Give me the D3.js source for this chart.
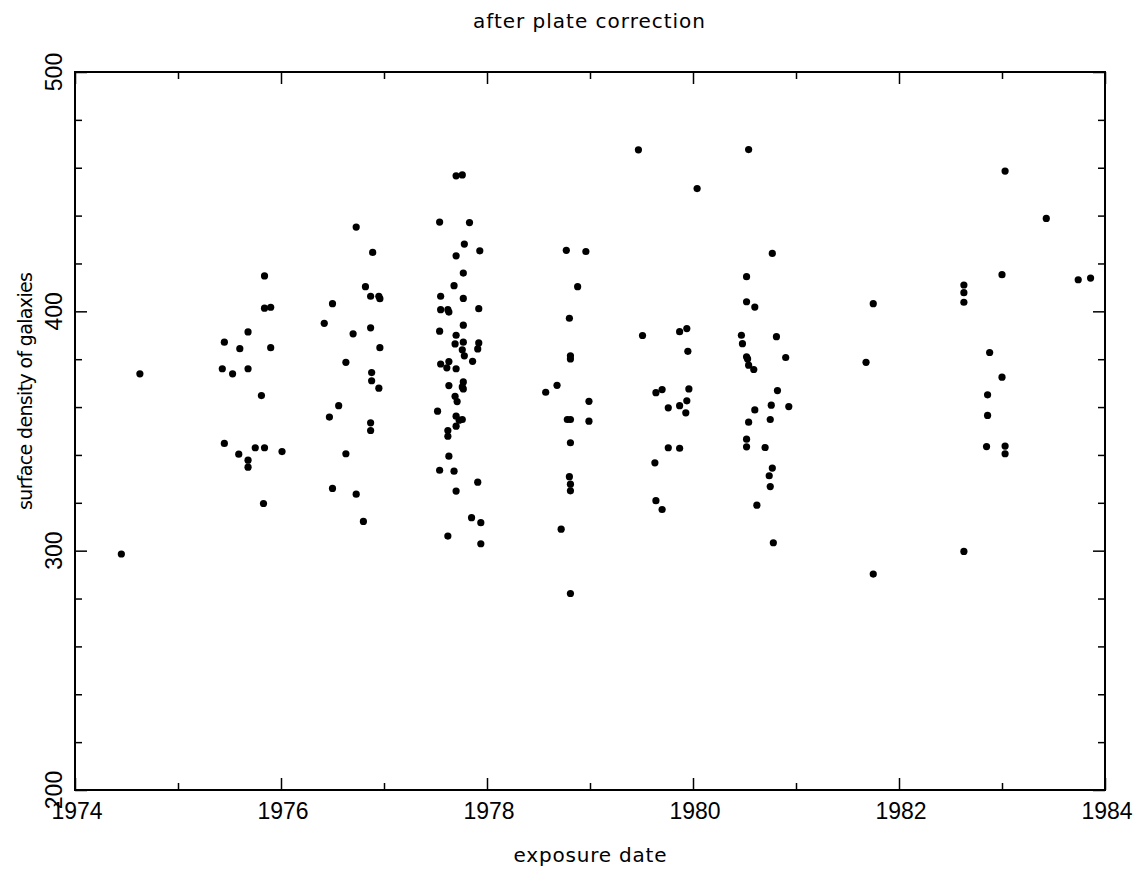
<!DOCTYPE html>
<html>
<head>
<meta charset="utf-8">
<script src="https://cdn.jsdelivr.net/npm/d3@7"></script>
<style>
  html, body { margin: 0; padding: 0; background: #fff; }
  svg { display: block; }
  text { font-family: "Liberation Sans", Arial, sans-serif; fill: #000; }
  text.label { font-family: "DejaVu Sans", sans-serif; }
</style>
</head>
<body>
<svg id="chart" width="1140" height="873"></svg>
<script>
// Plate exposure dates (decimal years) and corrected galaxy surface densities
const exposureDate = [
  1974.45, 1974.63,
  1975.84, 1975.84, 1975.90, 1975.68, 1975.45, 1975.60, 1975.90, 1975.43, 1975.53, 1975.68,
  1975.81, 1975.45, 1975.75, 1975.84, 1976.01, 1975.59, 1975.68, 1975.68, 1975.83,
  1976.73, 1976.89, 1976.82, 1976.87, 1976.95, 1976.96, 1976.50, 1976.42, 1976.87, 1976.70,
  1976.96, 1976.63, 1976.88, 1976.88, 1976.95, 1976.56, 1976.47, 1976.87, 1976.87, 1976.63,
  1976.50, 1976.73, 1976.80,
  1977.70, 1977.76, 1977.54, 1977.83, 1977.78, 1977.93, 1977.70, 1977.77, 1977.68, 1977.55,
  1977.77, 1977.55, 1977.62, 1977.63, 1977.92, 1977.77, 1977.54, 1977.70, 1977.69, 1977.77,
  1977.92, 1977.91, 1977.76, 1977.78, 1977.86, 1977.55, 1977.63, 1977.61, 1977.70, 1977.63,
  1977.77, 1977.76, 1977.77, 1977.69, 1977.71, 1977.52, 1977.70, 1977.76, 1977.73, 1977.70,
  1977.62, 1977.62, 1977.63, 1977.54, 1977.68, 1977.91, 1977.70, 1977.85, 1977.94, 1977.62,
  1977.94,
  1978.77, 1978.96, 1978.88, 1978.80, 1978.81, 1978.81, 1978.68, 1978.57, 1978.99, 1978.78,
  1978.81, 1978.99, 1978.81, 1978.80, 1978.81, 1978.81, 1978.72, 1978.81,
  1979.47, 1980.04,
  1979.51, 1979.87, 1979.94, 1979.95, 1979.64, 1979.70, 1979.96, 1979.76, 1979.87, 1979.94,
  1979.93, 1979.76, 1979.87, 1979.63, 1979.64, 1979.70,
  1980.54, 1980.77, 1980.52, 1980.52, 1980.60, 1980.47, 1980.48, 1980.81, 1980.52, 1980.53,
  1980.90, 1980.54, 1980.59, 1980.82, 1980.76, 1980.93, 1980.60, 1980.54, 1980.75, 1980.52,
  1980.52, 1980.70, 1980.77, 1980.74, 1980.75, 1980.62, 1980.78,
  1981.75, 1981.68, 1981.75,
  1983.03, 1983.43, 1983.00, 1983.74, 1983.86, 1982.63, 1982.63, 1982.63, 1982.88, 1983.00,
  1982.86, 1982.86, 1982.85, 1983.03, 1983.03, 1982.63
];
const density = [
  298.6, 373.9,
  414.8, 401.3, 401.7, 391.4, 387.1, 384.4, 384.8, 376.0, 373.9, 376.0,
  364.8, 344.8, 343.0, 343.0, 341.4, 340.3, 337.8, 334.9, 319.7,
  435.2, 424.6, 410.3, 406.3, 406.3, 405.3, 403.2, 395.0, 393.1, 390.6,
  384.8, 378.7, 374.4, 371.0, 367.9, 360.6, 355.8, 353.4, 350.2, 340.5,
  326.0, 323.6, 312.2,
  456.6, 457.0, 437.3, 437.1, 428.1, 425.3, 423.2, 416.0, 410.7, 406.3,
  405.4, 400.7, 400.7, 399.7, 401.1, 394.2, 391.7, 390.0, 386.4, 387.1,
  386.8, 384.3, 383.9, 381.4, 379.1, 378.0, 379.0, 376.4, 376.0, 369.0,
  370.5, 368.4, 367.6, 364.5, 362.3, 358.3, 356.2, 354.8, 354.5, 352.0,
  350.2, 347.8, 339.5, 333.6, 333.2, 328.6, 324.9, 313.8, 311.7, 306.1,
  302.9,
  425.5, 425.0, 410.3, 397.1, 381.4, 380.1, 369.1, 366.2, 362.4, 354.8,
  354.8, 354.1, 345.1, 330.9, 327.8, 325.0, 309.0, 282.1,
  467.5, 451.3,
  389.9, 391.5, 392.8, 383.3, 366.0, 367.3, 367.6, 359.7, 360.6, 362.6,
  357.6, 343.0, 342.8, 336.7, 320.9, 317.2,
  467.6, 424.2, 414.5, 404.0, 401.8, 390.0, 386.5, 389.4, 381.0, 380.1,
  380.7, 377.5, 375.7, 366.9, 360.8, 360.2, 358.8, 353.7, 354.8, 346.6,
  343.4, 343.1, 334.5, 331.3, 326.8, 319.0, 303.3,
  403.2, 378.7, 290.2,
  458.6, 438.8, 415.3, 413.2, 413.9, 411.0, 407.8, 403.8, 382.8, 372.5,
  365.1, 356.5, 343.5, 343.7, 340.5, 299.7
];

// Axis ranges and tick positions
const xDomain = [1974, 1984];
const yDomain = [200, 500];
const xMajorTicks = [1974, 1976, 1978, 1980, 1982, 1984];
const xMinorTicks = [1975, 1977, 1979, 1981, 1983];
const yMajorTicks = [200, 300, 400, 500];
const yMinorTicks = [220, 240, 260, 280, 320, 340, 360, 380, 420, 440, 460, 480];

const titleText = "after plate correction";
const xLabelText = "exposure date";
const yLabelText = "surface density of galaxies";

const svg = d3.select("#chart");
const plotLeft = 75, plotRight = 1105, plotTop = 72, plotBottom = 790;

const x = d3.scaleLinear().domain(xDomain).range([plotLeft, plotRight]);
const y = d3.scaleLinear().domain(yDomain).range([plotBottom, plotTop]);

const majorLen = 12, minorLen = 7;

// Tick marks pointing inward on all four sides
function tickAxis(axisFn, scale, values, len, translate) {
  const g = svg.append("g")
    .attr("transform", translate)
    .call(axisFn(scale).tickValues(values).tickSize(len).tickFormat(""));
  g.select(".domain").remove();
  g.selectAll(".tick line").attr("stroke", "#000").attr("stroke-width", 1.5);
  return g;
}
tickAxis(d3.axisTop, x, xMajorTicks, majorLen, `translate(0,${plotBottom})`);
tickAxis(d3.axisTop, x, xMinorTicks, minorLen, `translate(0,${plotBottom})`);
tickAxis(d3.axisBottom, x, xMajorTicks, majorLen, `translate(0,${plotTop})`);
tickAxis(d3.axisBottom, x, xMinorTicks, minorLen, `translate(0,${plotTop})`);
tickAxis(d3.axisRight, y, yMajorTicks, majorLen, `translate(${plotLeft},0)`);
tickAxis(d3.axisRight, y, yMinorTicks, minorLen, `translate(${plotLeft},0)`);
tickAxis(d3.axisLeft, y, yMajorTicks, majorLen, `translate(${plotRight},0)`);
tickAxis(d3.axisLeft, y, yMinorTicks, minorLen, `translate(${plotRight},0)`);

// Frame
svg.append("rect")
  .attr("x", plotLeft).attr("y", plotTop)
  .attr("width", plotRight - plotLeft).attr("height", plotBottom - plotTop)
  .attr("fill", "none").attr("stroke", "#000").attr("stroke-width", 2);

// Tick labels
svg.append("g").selectAll("text")
  .data(xMajorTicks).join("text")
  .attr("x", d => x(d) + 2).attr("y", 819)
  .attr("text-anchor", "middle")
  .attr("font-size", 23)
  .text(d => d);

svg.append("g").selectAll("text")
  .data(yMajorTicks).join("text")
  .attr("transform", d => `translate(62,${y(d)}) rotate(-90)`)
  .attr("text-anchor", "middle")
  .attr("font-size", 23)
  .text(d => d);

// Title and axis titles
svg.append("text")
  .attr("class", "label")
  .attr("x", 589).attr("y", 28)
  .attr("text-anchor", "middle")
  .attr("font-size", 20)
  .attr("textLength", 232).attr("lengthAdjust", "spacing")
  .text(titleText);

svg.append("text")
  .attr("class", "label")
  .attr("x", 590).attr("y", 862)
  .attr("text-anchor", "middle")
  .attr("font-size", 20)
  .attr("textLength", 153).attr("lengthAdjust", "spacing")
  .text(xLabelText);

svg.append("text")
  .attr("class", "label")
  .attr("transform", "translate(32,391) rotate(-90)")
  .attr("text-anchor", "middle")
  .attr("font-size", 19)
  .attr("textLength", 238).attr("lengthAdjust", "spacing")
  .text(yLabelText);

// Data points
svg.append("g").selectAll("circle")
  .data(d3.range(exposureDate.length)).join("circle")
  .attr("cx", i => x(exposureDate[i]))
  .attr("cy", i => y(density[i]))
  .attr("r", 3.6)
  .attr("fill", "#000");
</script>
</body>
</html>
